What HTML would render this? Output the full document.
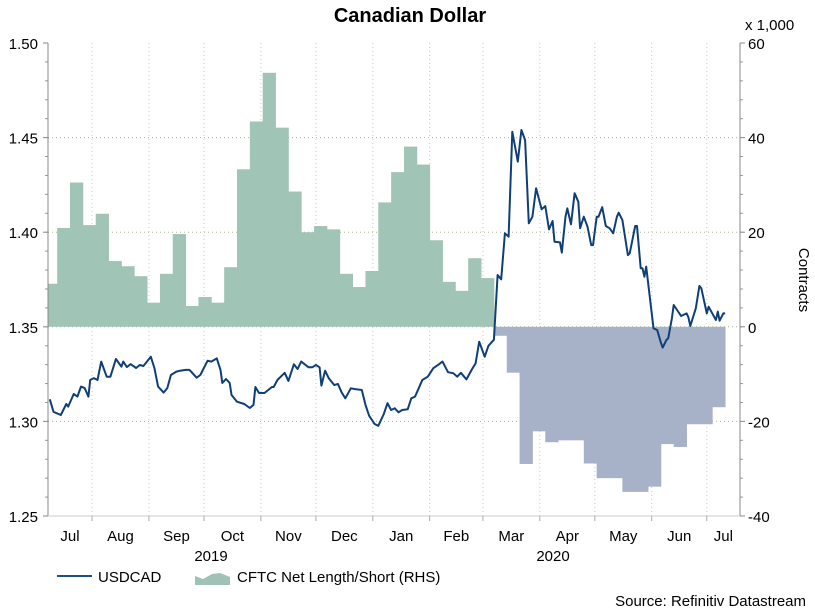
<!DOCTYPE html>
<html><head><meta charset="utf-8"><style>
body{margin:0;background:#fff;}
svg{display:block;font-family:"Liberation Sans",sans-serif;}
</style></head><body>
<svg id="chart" width="815" height="610" viewBox="0 0 815 610">
<text x="410" y="22" text-anchor="middle" font-size="20" font-weight="bold">Canadian Dollar</text>
<text x="745" y="30" font-size="15">x 1,000</text>
<text transform="translate(799,280) rotate(90)" text-anchor="middle" font-size="15">Contracts</text>
<g id="grid"></g>
<g id="area"></g>
<g id="line"></g>
<g id="axes"></g>
<g>
<line x1="57" y1="576" x2="92" y2="576" stroke="#1a4f8a" stroke-width="2"/>
<text x="98" y="582" font-size="15">USDCAD</text>
<path d="M195,585 L195,576 L203,579 L212,574 L220,573 L230,577 L230,585 Z" fill="#a0c2b6"/>
<text x="237" y="582" font-size="15">CFTC Net Length/Short (RHS)</text>
</g>
<text x="806" y="606" text-anchor="end" font-size="15">Source: Refinitiv Datastream</text>
</svg>
<script>
const cftcVals=[9.1,20.9,30.5,21.5,23.9,13.9,12.8,10.7,5.1,11.2,19.6,4.4,6.3,5.1,12.6,33.3,43.4,53.7,42.1,28.6,20,21.3,20.6,11.2,8.4,11.8,26.3,32.7,38.1,34.3,18.3,9.5,7.6,14.5,10.3,-1.9,-9.7,-29,-22.1,-24.4,-24,-24,-28.9,-32,-32,-34.9,-34.9,-33.8,-24.8,-25.4,-20.6,-20.6,-17];
const cftcStartDay=-2;
const usdDays=[1,3,7,10,11,14,16,18,20,22,23,25,27,29,32,34,37,40,41,43,45,48,50,52,56,58,60,63,65,67,70,72,75,77,78,81,83,87,89,92,94,95,97,99,100,103,107,110,112,113,115,118,122,123,125,129,131,134,136,138,142,144,146,148,149,151,153,156,158,160,162,165,167,171,173,175,178,180,183,185,187,189,191,193,196,198,200,202,204,207,210,213,215,218,221,223,225,228,231,233,235,238,240,243,245,247,249,251,253,256,258,260,262,264,266,269,271,273,275,276,279,280,282,283,285,287,289,290,292,294,296,297,299,300,302,304,306,308,310,311,313,316,317,320,321,323,324,325,326,330,332,334,335,337,338,340,341,345,348,349,350,353,355,356,359,360,364,365,366,368,369];
const usdVals=[1.3117,1.3051,1.3034,1.3092,1.3078,1.3145,1.3131,1.3184,1.3176,1.3131,1.3219,1.3229,1.3219,1.3316,1.3236,1.3236,1.3330,1.3289,1.3316,1.3287,1.3303,1.3282,1.3298,1.3293,1.3342,1.3282,1.3184,1.3152,1.3176,1.3245,1.3263,1.3268,1.3272,1.3272,1.3263,1.3231,1.3245,1.3321,1.3316,1.3333,1.3272,1.3203,1.3224,1.3203,1.3140,1.3104,1.3092,1.3071,1.3087,1.3182,1.3150,1.3150,1.3182,1.3182,1.3219,1.3257,1.3214,1.3302,1.3277,1.3316,1.3286,1.3286,1.3298,1.3286,1.3189,1.3268,1.3228,1.3192,1.3198,1.3154,1.3122,1.3175,1.3171,1.3166,1.3087,1.3030,1.2986,1.2977,1.3039,1.3096,1.3060,1.3069,1.3048,1.3060,1.3064,1.3122,1.3131,1.3175,1.3219,1.3236,1.3281,1.3302,1.3316,1.3260,1.3254,1.3236,1.3257,1.3222,1.3275,1.3307,1.3421,1.3342,1.3399,1.3432,1.3774,1.3751,1.3994,1.3976,1.4531,1.4373,1.4540,1.4487,1.4047,1.4082,1.4232,1.4121,1.4138,1.4015,1.4059,1.3950,1.3946,1.3892,1.4082,1.4126,1.4042,1.4206,1.4161,1.4021,1.4082,1.4029,1.3932,1.3932,1.4082,1.4082,1.4132,1.4033,1.4021,1.3994,1.4082,1.4103,1.4064,1.3879,1.3888,1.4033,1.4033,1.3809,1.3809,1.3765,1.3818,1.3492,1.3483,1.3416,1.3390,1.3430,1.3439,1.3545,1.3615,1.3557,1.3571,1.3550,1.3504,1.3598,1.3716,1.3704,1.3571,1.3606,1.3536,1.3580,1.3532,1.3571,1.3571];
const leftTicks=[1.25,1.30,1.35,1.40,1.45,1.50];
const rightTicks=[-40,-20,0,20,40,60];
const monthLabels=["Jul","Aug","Sep","Oct","Nov","Dec","Jan","Feb","Mar","Apr","May","Jun","Jul"];
const monthStartDays=[-7,24,55,85,116,146,177,208,237,268,298,329,359];
const yearLabels=["2019","2020"];

const X0=48,X1=740,YT=43,YB=516,DPX=1.835;
const xS=d=>X0+Math.max(d,0)*DPX;
const yL=v=>YT+(1.5-v)/0.25*(YB-YT);
const yR=v=>YT+(60-v)/100*(YB-YT);
const NS="http://www.w3.org/2000/svg";
function mk(tag,attrs,parent){const e=document.createElementNS(NS,tag);for(const k in attrs)e.setAttribute(k,attrs[k]);parent.appendChild(e);return e;}
const grid=document.getElementById('grid'),axes=document.getElementById('axes');

leftTicks.forEach((t,i)=>{
 const y=yL(t);
 if(i>0&&i<leftTicks.length-1){const g=mk('line',{x1:X0,x2:X1,y1:y,y2:y,stroke:'#a8b890','stroke-dasharray':'1,3'},grid);
 
 }
 const tx=mk('text',{x:38,y:y+6,'text-anchor':'end','font-size':15},axes);tx.textContent=t.toFixed(2);
 
 
 mk('line',{x1:X0-5,x2:X0,y1:y,y2:y,stroke:'#888'},axes);
});
for(let v=1.26;v<1.5;v+=0.01){mk('line',{x1:X0-3,x2:X0,y1:yL(v),y2:yL(v),stroke:'#999'},axes);}
rightTicks.forEach(t=>{
 const y=yR(t);
 const tx=mk('text',{x:748,y:y+6,'font-size':15},axes);tx.textContent=t;
 
 
 mk('line',{x1:X1,x2:X1+5,y1:y,y2:y,stroke:'#888'},axes);
});
for(let v=-36;v<60;v+=4){mk('line',{x1:X1,x2:X1+3,y1:yR(v),y2:yR(v),stroke:'#999'},axes);}
monthStartDays.forEach((d,i)=>{
 const x0=xS(d),x1=i<monthStartDays.length-1?xS(monthStartDays[i+1]):X1;
 if(d>0){const g=mk('line',{x1:x0,x2:x0,y1:YT,y2:YB,stroke:'#d8c8a0','stroke-dasharray':'1,3'},grid);
 
 
 mk('line',{x1:x0,x2:x0,y1:YB,y2:YB+5,stroke:'#aaa'},axes);}
 const tx=mk('text',{x:(x0+x1)/2,y:541,'text-anchor':'middle','font-size':15},axes);tx.textContent=monthLabels[i];
 
 
});
[[yearLabels[0],211],[yearLabels[1],553]].forEach(([s,x])=>{const tx=mk('text',{x:x,y:561,'text-anchor':'middle','font-size':15},axes);tx.textContent=s;
 
 });
mk('line',{x1:X0,x2:X0,y1:YT,y2:YB,stroke:'#888'},axes);
mk('line',{x1:X1,x2:X1,y1:YT,y2:YB,stroke:'#888'},axes);
mk('line',{x1:X0,x2:X1,y1:YB,y2:YB,stroke:'#ccc'},axes);

const area=document.getElementById('area');
cftcVals.forEach((v,i)=>{
 const a=xS(cftcStartDay+7*i),b=xS(cftcStartDay+7*(i+1));
 const y0=yR(0),y1=yR(v);
 const r=mk('rect',{x:a,y:Math.min(y0,y1),width:b-a+0.4,height:Math.abs(y1-y0),fill:v>=0?'#a0c4b5':'#a7b2c8'},area);
 
 
});
const line=document.getElementById('line');
const p=mk('polyline',{points:usdDays.map((d,i)=>xS(d).toFixed(1)+','+yL(usdVals[i]).toFixed(1)).join(' '),fill:'none',stroke:'#0f3f78','stroke-width':2,'stroke-linejoin':'round'},line);


</script>
</body></html>
